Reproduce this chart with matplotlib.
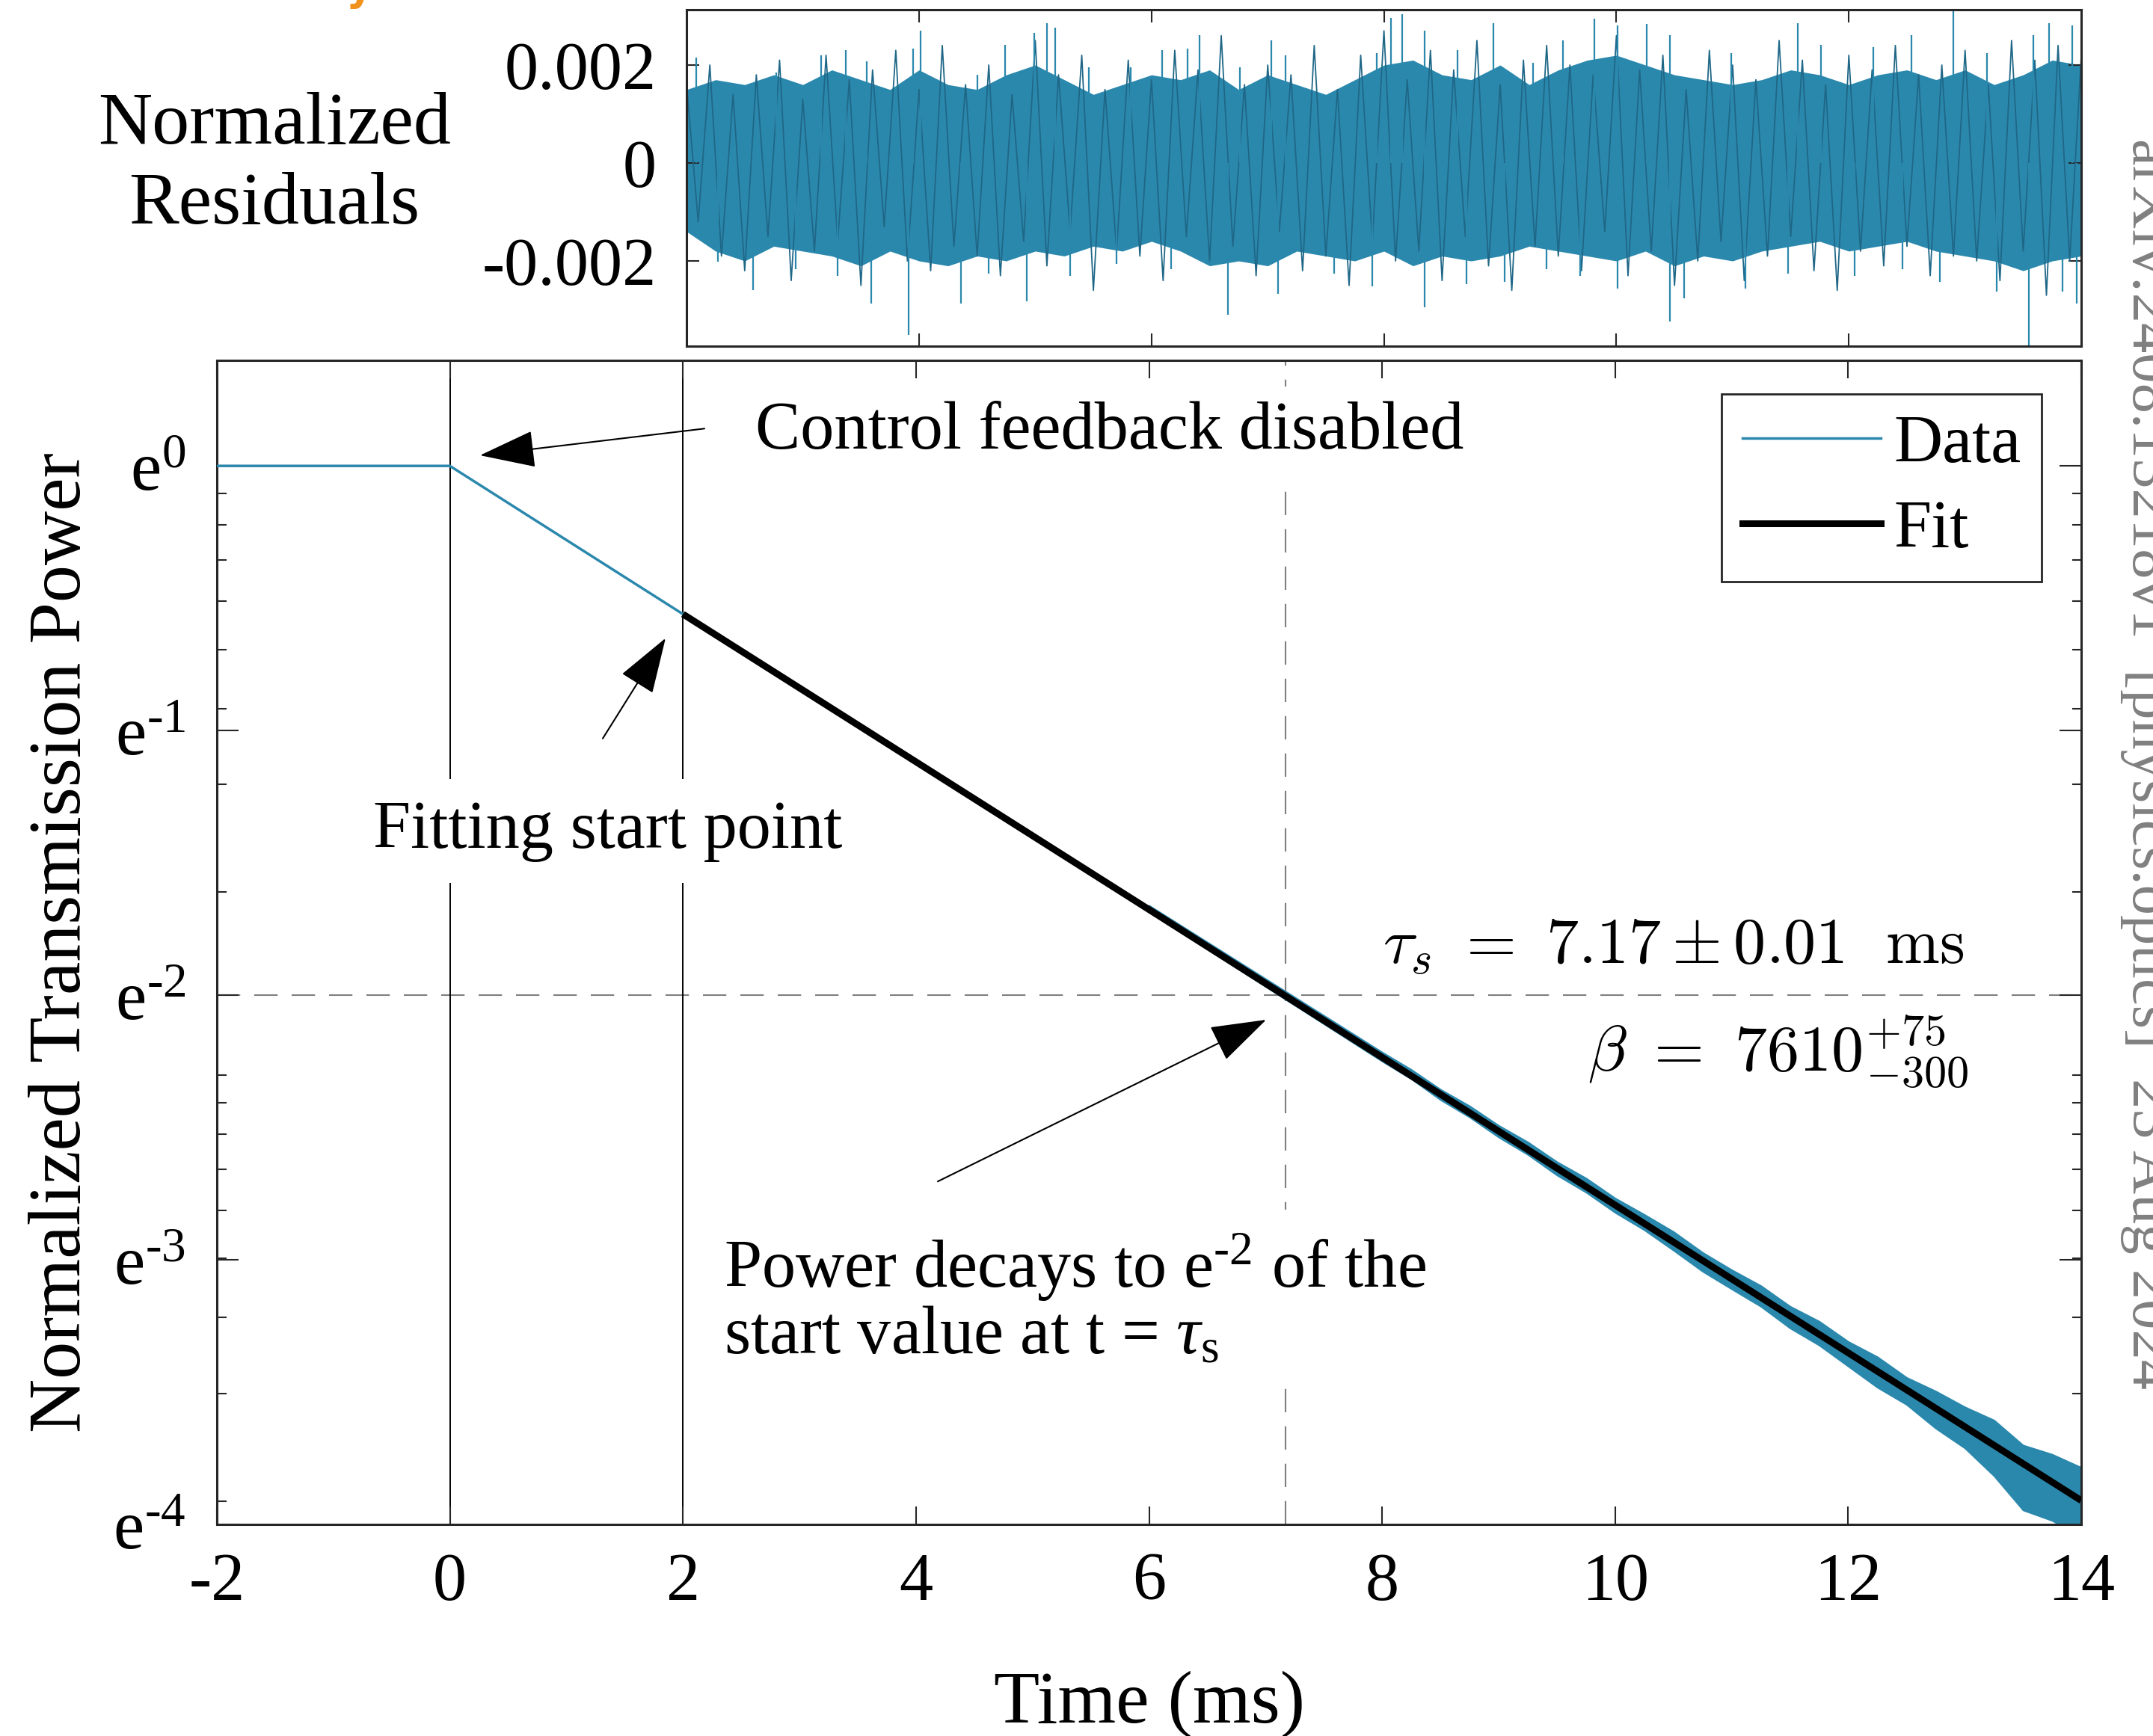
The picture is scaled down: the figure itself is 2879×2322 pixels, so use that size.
import numpy as np
import matplotlib.pyplot as plt
from matplotlib.lines import Line2D
from matplotlib.ticker import FixedLocator, LogLocator, NullFormatter, NullLocator

plt.rcParams['font.family'] = ['Liberation Serif', 'DejaVu Serif']
plt.rcParams['mathtext.fontset'] = 'custom'
plt.rcParams['mathtext.rm'] = 'Liberation Serif'
plt.rcParams['mathtext.it'] = 'Liberation Serif:italic'
plt.rcParams['mathtext.bf'] = 'Liberation Serif:bold'

# ---- data ----
tau_s = 7.17                       # ms, fitted storage time
data_t = [-2, 0, 2, 14]            # ms
data_ln = [0, 0, -0.56, -3.91]     # ln(P/P0)
fit_t = [2, 14]
fit_ln = [-0.56, -3.91]

# spread of the data traces around the fit (ln units), late times
band_t = [6, 8, 8.25, 8.5, 8.75, 9, 9.25, 9.5, 9.75, 10, 10.25, 10.5, 10.75, 11, 11.25, 11.5,
          11.75, 12, 12.25, 12.5, 12.75, 13, 13.25, 13.5, 13.75, 14]
band_hi = [-1.661, -2.2155, -2.2813, -2.3560, -2.4187, -2.4925, -2.5552, -2.6299, -2.6917,
           -2.7674, -2.8291, -2.8939, -2.9726, -3.0383, -3.0981, -3.1758, -3.2325, -3.3093,
           -3.3670, -3.4448, -3.4965, -3.5562, -3.6060, -3.7007, -3.7354, -3.7852]
band_lo = [-1.685, -2.2495, -2.3163, -2.3950, -2.4607, -2.5365, -2.6022, -2.6799, -2.7447,
           -2.8214, -2.8871, -2.9639, -3.0436, -3.1103, -3.1761, -3.2578, -3.3225, -3.4023,
           -3.4820, -3.5468, -3.6365, -3.7112, -3.8160, -3.9457, -3.9854, -4.0452]

# normalized residuals (units of 1e-3)
# dense band edges, every 0.25 ms
res_t = np.arange(2, 14.01, 0.25)
res_hi = [1.5, 1.7, 1.6, 1.8, 1.6, 1.9, 1.7, 1.5, 1.9, 1.6, 1.5, 1.8, 2.0, 1.7, 1.4, 1.6, 1.8,
          1.7, 1.9, 1.5, 1.8, 1.6, 1.4, 1.7, 2.0, 2.1, 1.8, 1.7, 2.0, 1.6, 1.9, 2.1, 2.2, 2.0,
          1.8, 1.7, 1.6, 1.7, 1.9, 1.8, 1.6, 1.8, 1.9, 1.7, 1.9, 1.6, 1.8, 2.1, 2.0]
res_lo = [-1.4, -1.8, -2.0, -1.7, -1.8, -1.9, -2.1, -1.8, -2.0, -2.1, -1.9, -2.0, -1.8, -1.9,
          -1.7, -1.8, -1.6, -1.8, -2.1, -2.0, -2.1, -1.8, -1.9, -2.0, -1.8, -2.1, -1.9, -2.0,
          -1.9, -1.7, -1.8, -1.9, -2.0, -1.8, -2.1, -1.9, -2.0, -1.8, -1.7, -1.6, -1.8, -1.7,
          -1.6, -1.8, -1.9, -2.0, -2.2, -2.0, -1.9]
# fine trace, every 0.1 ms
zig_t = np.arange(2, 14.001, 0.1)
zig_v = [1.6, -1.2, 2.0, -1.9, 1.4, -2.2, 1.8, -1.5, 2.1, -2.4,
         1.3, -1.8, 2.2, -1.6, 1.7, -2.5, 1.9, -1.3, 2.3, -2.0,
         1.5, -2.2, 2.4, -1.7, 1.6, -1.9, 2.0, -2.3, 1.4, -1.6,
         2.5, -2.1, 1.8, -1.4, 2.2, -2.6, 1.5, -1.8, 2.1, -1.9,
         1.7, -2.4, 2.3, -1.5, 1.9, -2.0, 2.6, -1.7, 1.6, -2.3,
         2.0, -1.4, 1.8, -2.2, 2.4, -1.9, 1.5, -2.5, 2.2, -1.6,
         2.7, -2.0, 1.7, -1.8, 2.3, -2.4, 1.9, -1.5, 2.5, -2.1,
         1.6, -2.6, 2.1, -1.7, 2.4, -1.9, 2.0, -2.2, 1.8, -1.4,
         2.6, -2.3, 1.9, -1.8, 2.2, -2.5, 1.5, -2.0, 2.3, -1.6,
         2.0, -2.4, 1.7, -1.9, 2.5, -1.5, 2.1, -2.2, 1.6, -2.6,
         2.2, -1.8, 1.9, -2.1, 2.4, -1.7, 1.8, -2.3, 2.0, -1.9,
         2.3, -2.0, 1.6, -2.4, 2.5, -1.8, 2.1, -2.7, 2.4, -2.0,
         2.2]
# isolated spikes (time ms, value 1e-3)
spk_up_t = [2.08, 2.77, 3.16, 3.37, 3.55, 3.95, 4.01, 4.5, 4.74, 4.99, 5.1, 5.17, 5.46, 5.82,
            6.09, 6.31, 6.41, 6.76, 7.03, 7.15, 7.94, 8.06, 8.16, 8.35, 8.63, 8.94, 9.28, 9.54,
            9.81, 10.01, 10.26, 10.46, 10.99, 11.56, 11.76, 12.21, 12.54, 12.9, 13.19, 13.59,
            13.72, 13.92]
spk_up_v = [2.15, 1.85, 2.2, 2.3, 2.08, 2.33, 2.71, 1.8, 2.41, 2.66, 2.86, 2.76, 1.95, 1.95,
            2.3, 2.33, 2.61, 1.95, 2.51, 2.2, 2.25, 2.96, 3.04, 2.71, 2.3, 2.86, 2.05, 2.51,
            2.94, 2.81, 2.84, 2.61, 2.25, 2.86, 2.41, 2.36, 2.61, 3.14, 2.25, 2.61, 2.86, 2.81]
spk_dn_t = [2.27, 2.57, 2.94, 3.3, 3.59, 3.91, 4.36, 4.6, 4.93, 5.3, 5.7, 6.17, 6.66, 7.09,
            7.57, 7.9, 8.35, 8.71, 9.04, 9.4, 9.69, 10.01, 10.46, 10.58, 11.11, 11.48, 12.05,
            12.46, 12.78, 13.27, 13.55, 13.84, 13.96]
spk_dn_v = [-2.01, -2.59, -2.16, -2.31, -2.87, -3.51, -2.87, -2.26, -2.82, -2.31, -2.06, -2.16,
            -3.1, -2.67, -2.26, -2.52, -2.95, -2.47, -2.42, -2.16, -2.31, -2.57, -3.23, -2.77,
            -2.57, -2.26, -2.31, -2.16, -2.42, -2.62, -3.79, -2.62, -2.87]

blue = '#2b88ad'
dark = '#1f6787'
axcol = '#262626'
fs = 65
lfs = 72

fig = plt.figure(figsize=(28.79, 23.22), dpi=100)
ax = fig.add_axes([0.1007, 0.1219, 0.866, 0.6705])
axr = fig.add_axes([0.3189, 0.8006, 0.6478, 0.1938])

# ---- main panel ----
ax.set_yscale('log')
ax.axhline(np.exp(-2), color='#7f7f7f', lw=1.5, ls=(0, (15, 9)), zorder=1)
ax.axvline(tau_s, color='#7f7f7f', lw=1.5, ls=(0, (15, 9)), zorder=1)
ax.axvline(0, color='black', lw=1.4, zorder=1)
ax.axvline(2, color='black', lw=1.4, zorder=1)

ax.fill_between(band_t, np.exp(band_lo), np.exp(band_hi), color=blue, lw=1.5,
                edgecolor=blue, zorder=2)
ax.plot(data_t, np.exp(data_ln), color=blue, lw=2.5, zorder=3)
ax.plot(fit_t, np.exp(fit_ln), color='black', lw=6.5, solid_capstyle='butt', zorder=4)

ax.set_xlim(-2, 14)
ax.set_ylim(np.exp(-4), 1.49)
ax.xaxis.set_major_locator(FixedLocator(range(-2, 15, 2)))
ax.set_xticklabels([str(v) if v >= 0 else '-' + str(-v) for v in range(-2, 15, 2)])
ax.xaxis.set_minor_locator(NullLocator())
ax.yaxis.set_major_locator(FixedLocator(np.exp([-4, -3, -2, -1, 0])))
ax.set_yticklabels([r'$\mathrm{e}^{\text{-}4}$', r'$\mathrm{e}^{\text{-}3}$',
                    r'$\mathrm{e}^{\text{-}2}$', r'$\mathrm{e}^{\text{-}1}$', r'$\mathrm{e}^{0}$'])
ax.yaxis.set_minor_locator(LogLocator(base=10, subs=np.arange(1, 10)))
ax.yaxis.set_minor_formatter(NullFormatter())

ax.tick_params(which='both', direction='in', top=True, right=True, colors=axcol,
               labelcolor='black', labelsize=fs, width=1.5)
ax.tick_params(axis='x', which='major', length=17, pad=27)
ax.tick_params(axis='y', which='major', length=21, pad=30, labelsize=67)
ax.tick_params(axis='y', which='minor', length=9)
for s in ax.spines.values():
    s.set_color(axcol)
    s.set_linewidth(2.2)

ax.set_xlabel('Time (ms)', fontsize=lfs)
ax.xaxis.set_label_coords(0.5, -0.155)
ax.xaxis.label.set_va('center')
ax.set_ylabel('Normalized Transmission Power', fontsize=lfs)
ax.yaxis.set_label_coords(-0.083, 0.5)
ax.yaxis.label.set_va('center')

# annotations
ax.text(2.62, np.exp(0.127), 'Control feedback disabled', fontsize=fs, ha='left',
        va='center', bbox=dict(facecolor='white', edgecolor='none', pad=14), zorder=5)
ax.text(-0.66, np.exp(-1.38), 'Fitting start point', fontsize=fs, ha='left',
        va='center', bbox=dict(facecolor='white', edgecolor='none', pad=20), zorder=5)
ax.text(2.352, np.exp(-3.15), 'Power decays to e$^{\\text{-}2}$ of the\n'
        'start value at t = $\\tau_{\\text{s}}$', fontsize=fs, ha='left', va='center',
        linespacing=1.05, bbox=dict(facecolor='white', edgecolor='none', pad=20), zorder=5)
ax.text(12.99, np.exp(-1.822), r'$\tau_s\ =\ 7.17 \pm 0.01\ \ \mathrm{ms}$', fontsize=62,
        math_fontfamily='cm', ha='right', va='center', zorder=5)
ax.text(13.03, np.exp(-2.215), r'$\beta\ =\ 7610^{+75}_{-300}$', fontsize=62,
        math_fontfamily='cm', ha='right', va='center', zorder=5)

arrow = dict(arrowstyle='-|>,head_length=2.4,head_width=0.8', color='black', lw=1.5,
             shrinkA=0, shrinkB=0, mutation_scale=20)
ax.annotate('', xy=(0.259, np.exp(0.040)), xytext=(2.185, np.exp(0.141)), arrowprops=arrow,
            zorder=6)
ax.annotate('', xy=(1.851, np.exp(-0.651)), xytext=(1.312, np.exp(-1.030)), arrowprops=arrow,
            zorder=6)
ax.annotate('', xy=(7.005, np.exp(-2.093)), xytext=(4.187, np.exp(-2.704)), arrowprops=arrow,
            zorder=6)

leg_handles = [Line2D([], [], color=blue, lw=2.5), Line2D([], [], color='black', lw=6.5)]
leg = ax.legend(leg_handles, ['Data', 'Fit'], loc='upper right', fontsize=fs,
                bbox_to_anchor=(2730 / 2879, 1 - 527 / 2322), bbox_transform=fig.transFigure,
                fancybox=False, framealpha=1, edgecolor=axcol, handlelength=2.05,
                handletextpad=0.2, borderpad=0.3, labelspacing=0.35, borderaxespad=0)
leg.get_frame().set_linewidth(2.0)

# ---- residual panel ----
axr.fill_between(res_t, np.array(res_lo) * 1e-3, np.array(res_hi) * 1e-3, color=blue, lw=0)
axr.plot(zig_t, np.array(zig_v) * 1e-3, color=dark, lw=1.3)
axr.vlines(spk_up_t, 0, np.array(spk_up_v) * 1e-3, color=blue, lw=1.6)
axr.vlines(spk_dn_t, 0, np.array(spk_dn_v) * 1e-3, color=blue, lw=1.6)
axr.set_xlim(2, 14)
axr.set_ylim(-0.00374, 0.00313)
axr.xaxis.set_major_locator(FixedLocator(range(4, 13, 2)))
axr.yaxis.set_major_locator(FixedLocator([-0.002, 0, 0.002]))
axr.set_yticklabels(['-0.002', '0', '0.002'])
axr.tick_params(direction='in', top=True, right=True, labelbottom=False, length=12,
                width=1.5, colors=axcol, labelcolor='black', labelsize=fs, pad=29)
for s in axr.spines.values():
    s.set_color(axcol)
    s.set_linewidth(2.2)
axr.set_ylabel('Normalized\nResiduals', fontsize=lfs, rotation=0, ha='center', va='center',
               linespacing=1.25)
axr.yaxis.set_label_coords(-0.2954, 0.536)

# page furniture
fig.text(2852 / 2879, 1 - 185 / 2322, 'arXiv:2408.13218v1  [physics.optics]  23 Aug 2024',
         rotation=-90, rotation_mode='anchor', ha='left', va='baseline', color='#808080',
         fontsize=58)
fig.text(462 / 2879, 1.0, 'y', color='#f0921c', fontsize=40, fontweight='bold',
         family='DejaVu Sans', va='baseline')

fig.savefig('out.png', dpi=100)
